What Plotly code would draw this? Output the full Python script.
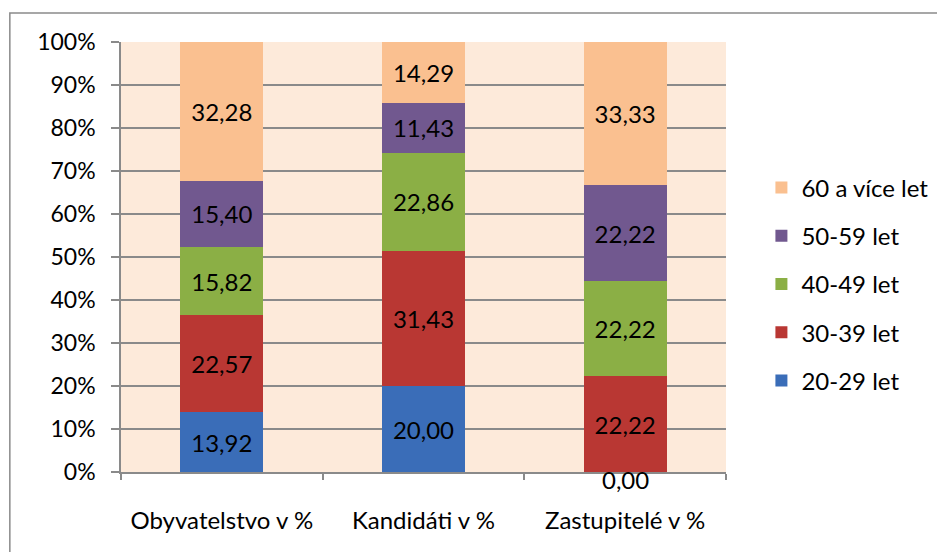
import plotly.graph_objects as go

categories = ["Obyvatelstvo v %", "Kandidáti v %", "Zastupitelé v %"]
series_names = ["20-29 let", "30-39 let", "40-49 let", "50-59 let", "60 a více let"]
v_20_29 = [13.92, 20.00, 0.00]
v_30_39 = [22.57, 31.43, 22.22]
v_40_49 = [15.82, 22.86, 22.22]
v_50_59 = [15.40, 11.43, 22.22]
v_60_plus = [32.28, 14.29, 33.33]
y_ticks = [0, 10, 20, 30, 40, 50, 60, 70, 80, 90, 100]

series_values = [v_20_29, v_30_39, v_40_49, v_50_59, v_60_plus]
colors = ["#3A6DB8", "#B93733", "#8BAF45", "#71588F", "#FAC090"]

FONT = "Lato"
FS = 24

def fmt(v):
    return f"{v:.2f}".replace(".", ",")

fig = go.Figure()
n = len(series_names)
for i, (name, vals, col) in enumerate(zip(series_names, series_values, colors)):
    fig.add_trace(go.Bar(
        x=categories, y=vals, name=name,
        marker=dict(color=col, line=dict(width=0)),
        text=[fmt(v) if v > 0 else "" for v in vals],
        textposition="inside", insidetextanchor="middle",
        textangle=0, constraintext="none",
        textfont=dict(family=FONT, size=FS, color="black"),
        legendgroup=name, legendrank=n - i,
        hoverinfo="skip",
    ))

# zero-height segment labels (shown at the segment's base)
annotations = []
for i, cat in enumerate(categories):
    base = 0.0
    for vals in series_values:
        if vals[i] == 0:
            annotations.append(dict(x=cat, y=base, xref="x", yref="y", text=fmt(vals[i]),
                                    showarrow=False, yshift=-7,
                                    font=dict(family=FONT, size=FS, color="black")))
        base += vals[i]

# page offset (browser body margin)
OX, OY = 8, 8
W, H = 945 - OX, 552 - OY
L, R, T, B = 121 - OX, 736 - OX, 42 - OY, 472 - OY
pw, ph = R - L, B - T

def px_x(x):
    return (x - OX - L) / pw

def px_y(y):
    return (B - (y - OY)) / ph

fig.update_layout(
    width=W, height=H,
    margin=dict(l=L, r=W - R, t=T, b=H - B, pad=0),
    barmode="stack", bargap=0.59,
    plot_bgcolor="#FDEADA", paper_bgcolor="white",
    font=dict(family=FONT, size=FS, color="black"),
    showlegend=True,
    legend=dict(
        x=px_x(772), y=px_y(284), xanchor="left", yanchor="middle",
        traceorder="grouped", tracegroupgap=14,
        font=dict(family=FONT, size=FS, color="black"),
        bgcolor="rgba(0,0,0,0)", itemwidth=30,
    ),
    annotations=annotations,
    shapes=[dict(type="rect", xref="paper", yref="paper",
                 x0=px_x(8), x1=px_x(970), y0=px_y(580), y1=px_y(13),
                 line=dict(color="#8A8A8A", width=1.5), fillcolor="rgba(0,0,0,0)", layer="below")],
)
fig.update_xaxes(
    showline=True, linecolor="#8A8A8A", linewidth=1.5,
    tickson="boundaries", ticks="outside", ticklen=6, tickcolor="#8A8A8A", tickwidth=1.5,
    showgrid=False,
    ticklabelstandoff=26,
    tickfont=dict(family=FONT, size=FS, color="black"),
)
fig.update_yaxes(
    range=[0, 100], tickvals=y_ticks, ticktext=[f"{t}%" for t in y_ticks],
    showline=True, linecolor="#8A8A8A", linewidth=1.5,
    ticks="outside", ticklen=8, tickcolor="#8A8A8A", tickwidth=1.5,
    showgrid=True, gridcolor="#8A8A8A", gridwidth=1.5, zeroline=False,
    ticklabelstandoff=11,
    tickfont=dict(family=FONT, size=23, color="black"),
)
fig.write_html("out.html")
